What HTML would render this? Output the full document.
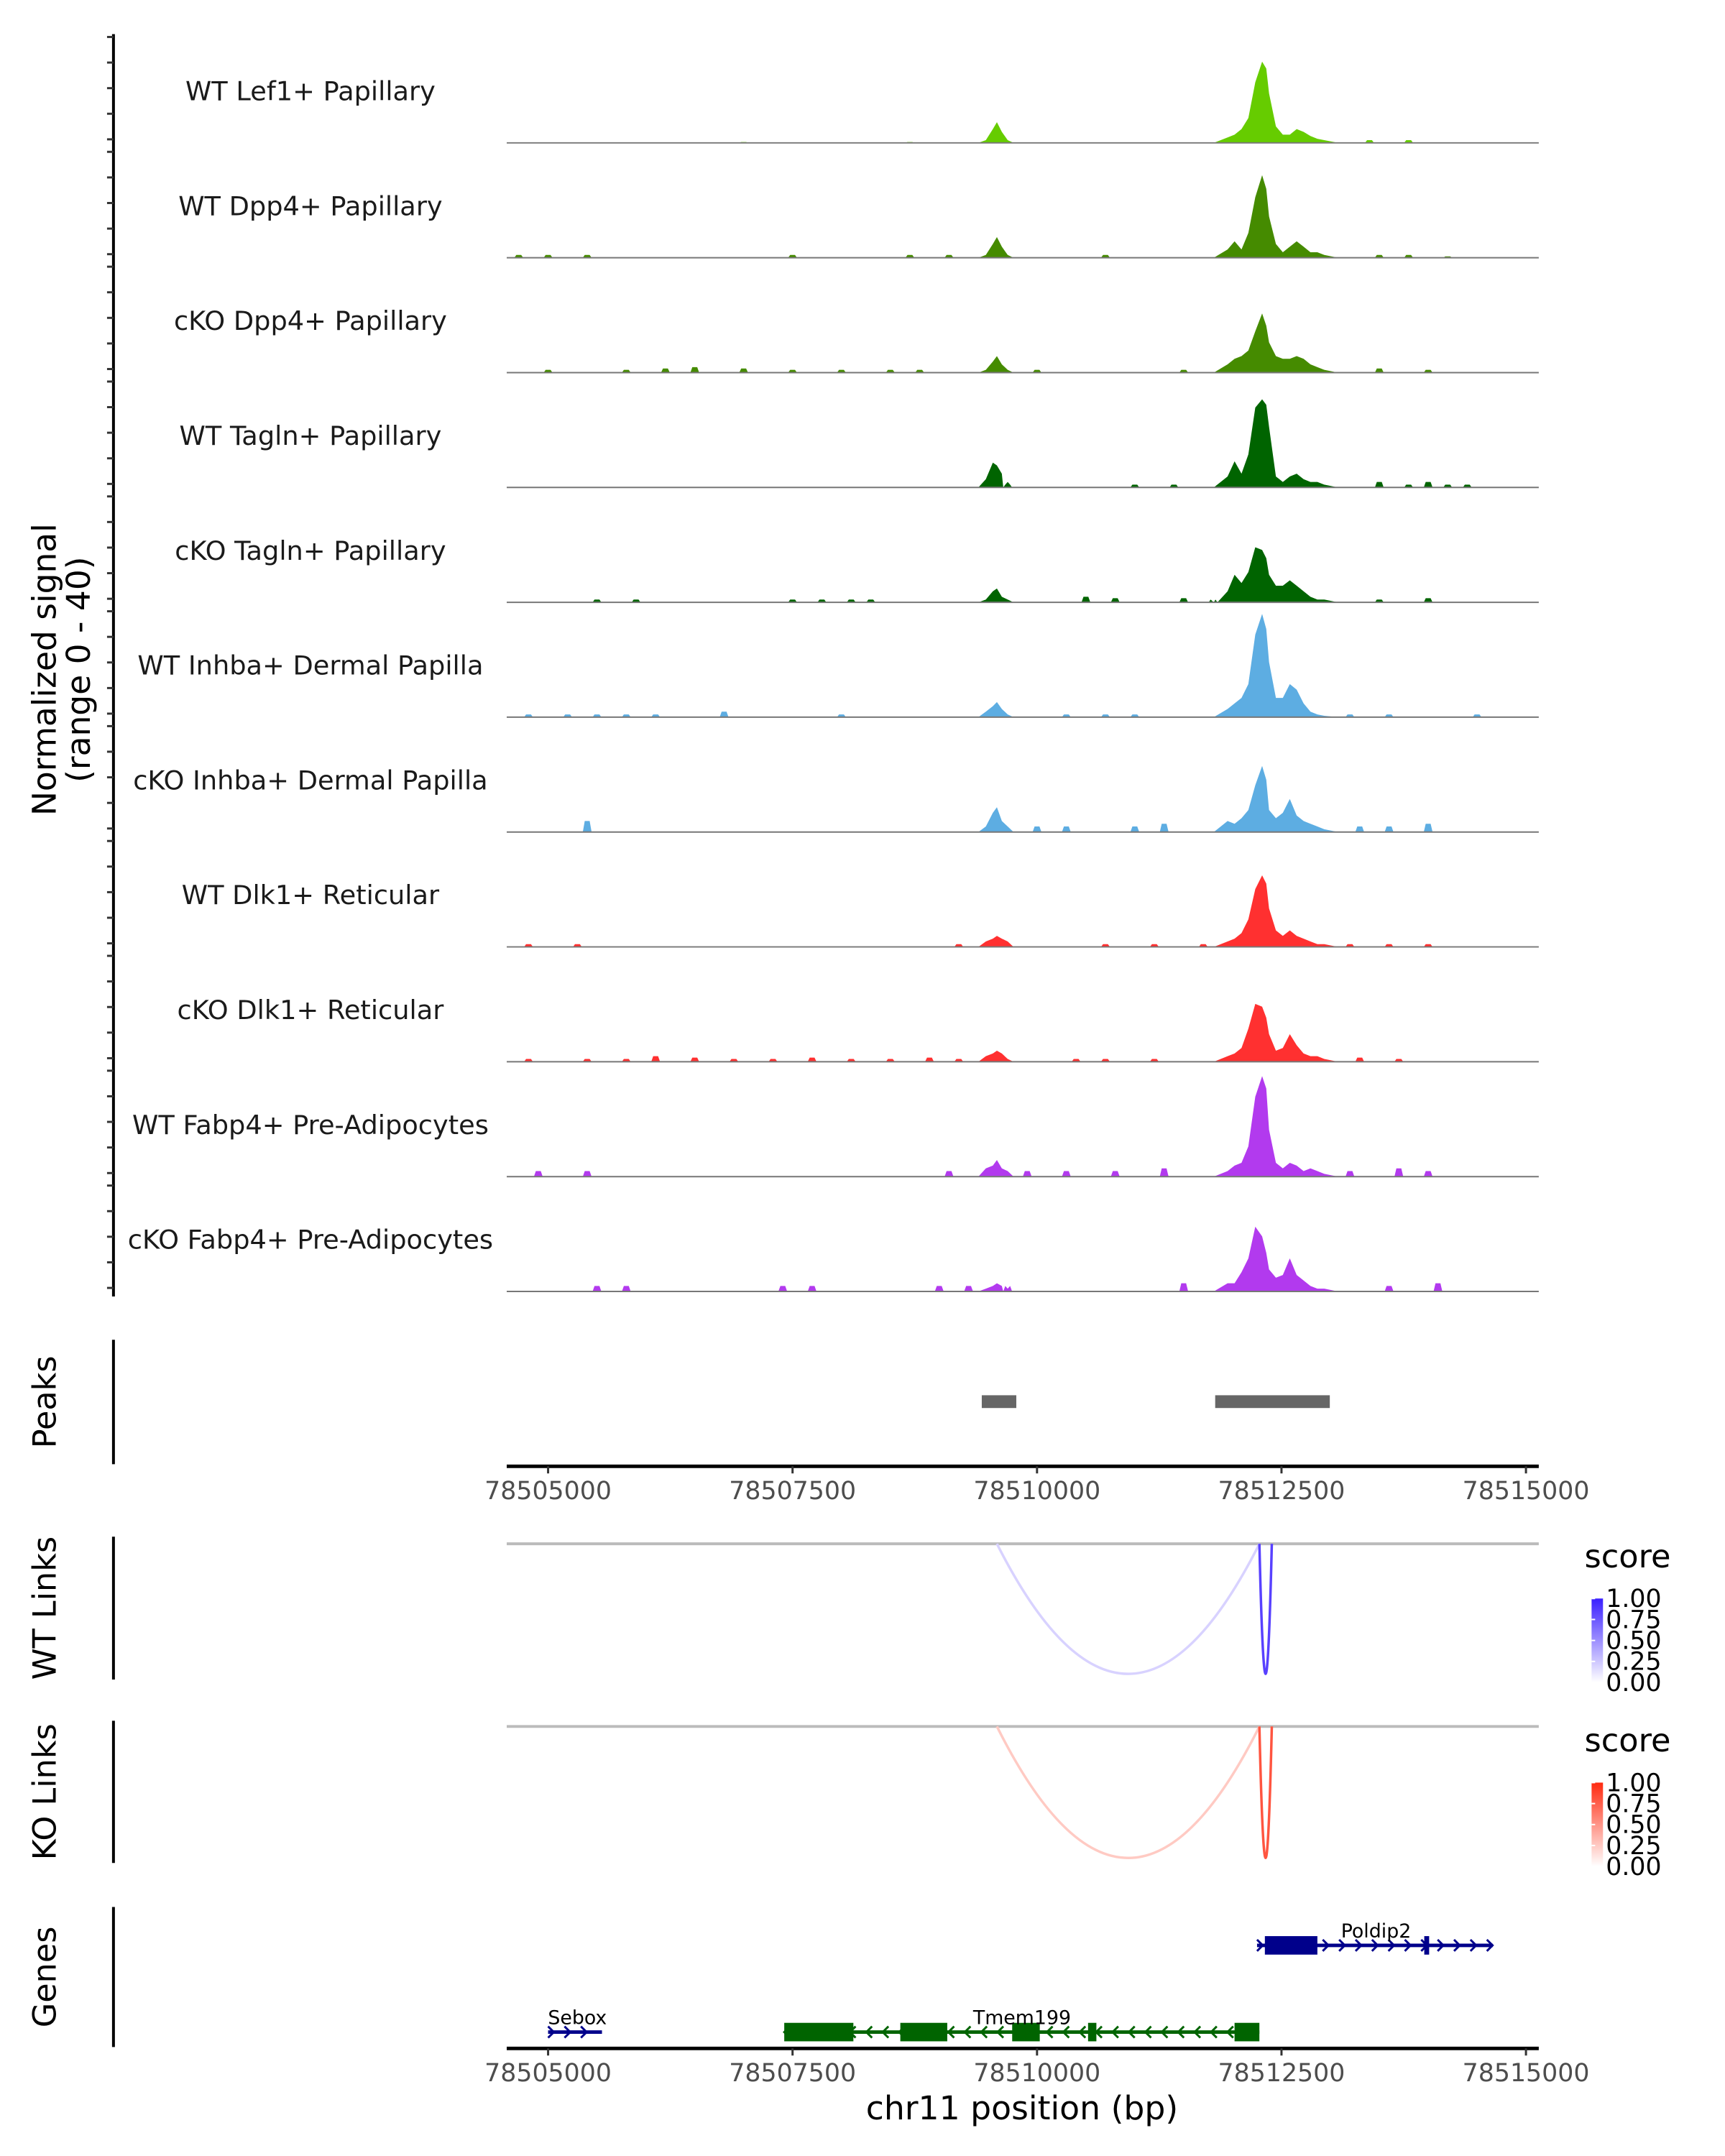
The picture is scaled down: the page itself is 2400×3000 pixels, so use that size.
<!DOCTYPE html>
<html><head><meta charset="utf-8">
<style>
html,body{margin:0;padding:0;background:#fff;}
svg{display:block;font-family:"DejaVu Sans","Liberation Sans",sans-serif;}
</style></head>
<body>
<svg id="chart" width="2400" height="3000" viewBox="0 0 2400 3000" xmlns="http://www.w3.org/2000/svg">
<defs>
<linearGradient id="gradBlue" x1="0" y1="1" x2="0" y2="0"><stop offset="0" stop-color="#ffffff"/><stop offset="1" stop-color="#3a1fff"/></linearGradient>
<linearGradient id="gradRed" x1="0" y1="1" x2="0" y2="0"><stop offset="0" stop-color="#ffffff"/><stop offset="1" stop-color="#ff2a10"/></linearGradient>
</defs>
<g transform="matrix(0.993,0,0,0.989,-2,2)">
<g id="tracks"></g>
<text x="0" y="0" transform="translate(80,940) rotate(-90)" text-anchor="middle" font-size="46" fill="#000">Normalized signal</text>
<text x="0" y="0" transform="translate(128,940) rotate(-90)" text-anchor="middle" font-size="46" fill="#000">(range 0 - 40)</text>
<g id="peaks"></g>
<g id="links"></g>
<g id="genes"></g>
</g>
</svg>
<script>
const SVGNS="http://www.w3.org/2000/svg";
const domainStart=78504577, domainEnd=78515131;
const plotLeft=712, plotRight=2158;
const tickValues=[78505000,78507500,78510000,78512500,78515000];
const trackNames=["WT Lef1+ Papillary","WT Dpp4+ Papillary","cKO Dpp4+ Papillary","WT Tagln+ Papillary","cKO Tagln+ Papillary","WT Inhba+ Dermal Papilla","cKO Inhba+ Dermal Papilla","WT Dlk1+ Reticular","cKO Dlk1+ Reticular","WT Fabp4+ Pre-Adipocytes","cKO Fabp4+ Pre-Adipocytes"];
const trackColors=["#66cc00","#458b00","#458b00","#006400","#006400","#5dade2","#5dade2","#ff3030","#ff3030","#b23aee","#b23aee"];
const mainPos=[78511808,78511949,78512020,78512091,78512161,78512232,78512302,78512344,78512373,78512443,78512514,78512585,78512655,78512726,78512796,78512867,78512938,78513079];
const mainVals=[
[0,2,3,5,9,22,29.5,27,18,6,3,3,5,4,2.5,1.5,1,0],
[0,3,6,3,9,22,30,25,15,5,2,4,6,4,2,2,1,0],
[0,3,5,6,8,15,21.5,17,11,6,5,5,6,5,3,2,1,0],
[0,4,9.5,5,12,29,32,30,22,4,2,4,5,3,2,2,1,0],
[0,4,10,7,11,20,19,16,10,6,6,8,6,4,2,1,1,0],
[0,3,5,7,12,30,37.5,32,20,7,7,12,10,5,2,1,0.5,0],
[0,4,3,5,8,17,24,19,8,5,7,12,6,4,3,2,1,0],
[0,2,3,5,10,21,26,23,14,6,4,6,4,3,2,1,1,0],
[0,2,3,5,12,21,20,16,10,4,5,10,6,3,2,2,1,0],
[0,2,4,5,11,29,36.5,32,17,5,3,5,4,2,3,2,1,0],
[0,3,3,7,12,23.5,20,14,8,5,6,12,6,4,2,1,1,0]];
const smallPos=[78509400,78509477,78509548,78509590,78509640,78509700,78509760];
const smallVals=[
[0,1,5,7.5,4,1,0],[0,1,5,7.5,4,1,0],[0,1,4,6,3,1,0],[0,3,9,8,5,2,0],[0,1,4,5,2,1,0],
[0,2,4,5.5,3,1,0],[0,2,7,9,4,2,0],[0,2,3,4,3,2,0],[0,2,3,4,3,1,0],[0,3,4,6,3,2,0],[0,1,2,3,2,1,0]];
const scatterPos=[
[78507000,78508700,78513400,78513800],
[78504700,78505000,78505400,78507500,78508700,78509100,78510700,78513500,78513800,78514200],
[78505000,78505800,78506200,78506500,78507000,78507500,78508000,78508500,78508800,78510000,78511500,78513500,78514000],
[78509700,78511000,78511400,78513500,78513800,78514000,78514200,78514400],
[78505500,78505900,78507500,78507800,78508100,78508300,78510500,78510800,78511500,78511800,78513500,78514000],
[78504800,78505200,78505500,78505800,78506100,78506800,78508000,78510300,78510700,78511000,78513200,78513600,78514500],
[78505400,78510000,78510300,78511000,78511300,78513300,78513600,78514000],
[78504800,78505300,78509200,78510700,78511200,78511700,78513200,78513600,78514000],
[78504800,78505400,78505800,78506100,78506500,78506900,78507300,78507700,78508100,78508500,78508900,78509200,78510400,78510700,78511200,78513300,78513700],
[78504900,78505400,78509100,78509900,78510300,78510800,78511300,78513200,78513700,78514000],
[78505500,78505800,78507400,78507700,78509000,78509300,78509700,78511500,78513600,78514100]];
const scatterVals=[
[0.3,0.3,1,1],
[1,1,1,1,1,1,1,1,1,0.5],
[1,1,1.5,2,1.5,1,1,1,1,1,1,1.5,1],
[1,1,1,2,1,2,1,1],
[1,1,1,1,1,1,2,1.5,1.5,1,1,1.5],
[1,1,1,1,1,2,1,1,1,1,1,1,1],
[4,2,2,2,3,2,2,3],
[1,1,1,1,1,1,1,1,1],
[1,1,1,2,1.5,1,1,1.5,1,1,1.5,1,1,1,1,1.5,1],
[2,2,2,2,2,2,3,2,3,2],
[2,2,2,2,2,2,2,3,2,3]];
const peakStarts=[78509435,78511822];
const peakEnds=[78509788,78512994];
const linkStarts=[78509590,78512274];
const linkEnds=[78512274,78512401];
const wtScores=[0.2,0.85];
const koScores=[0.25,0.8];
const legendLabels=["1.00","0.75","0.50","0.25","0.00"];

function x(bp){return plotLeft+(bp-domainStart)*(plotRight-plotLeft)/(domainEnd-domainStart);}
const trackTop0=46, trackH=161.6, unitPx=3.875;
function el(tag,attrs,parent){const e=document.createElementNS(SVGNS,tag);for(const k in attrs)e.setAttribute(k,attrs[k]);parent.appendChild(e);return e;}

const tracksG=document.getElementById('tracks');
const ax=el('line',{x1:161,y1:46,x2:161,y2:1822,stroke:'#000','stroke-width':4},tracksG);


for(let i=0;i<11;i++){
  const top=trackTop0+i*trackH;
  for(let k=0;k<5;k++){
    const t=el('line',{x1:152,x2:161,y1:top+4+k*36,y2:top+4+k*36,stroke:'#333','stroke-width':3},tracksG);
    
    
  }
}
for(let i=0;i<11;i++){
  const base=199+i*trackH;
  let pts=[];
  mainPos.forEach((p,j)=>pts.push([p,mainVals[i][j]]));
  smallPos.forEach((p,j)=>pts.push([p,smallVals[i][j]]));
  scatterPos[i].forEach((p,j)=>{const v=scatterVals[i][j];pts.push([p-45,0],[p-25,v],[p+25,v],[p+45,0]);});
  pts.sort((a,b)=>a[0]-b[0]);
  let d='M'+plotLeft+','+base;
  pts.forEach(q=>{d+=' L'+x(q[0]).toFixed(1)+','+(base-q[1]*unitPx).toFixed(1);});
  d+=' L'+plotRight+','+base+' Z';
  const area=el('path',{d:d,fill:trackColors[i],stroke:'none'},tracksG);
  
  
  const bl=el('line',{x1:plotLeft,x2:plotRight,y1:base,y2:base,stroke:'#777','stroke-width':2},tracksG);
  
  
  const lab=el('text',{x:437,y:base-60,'text-anchor':'middle','font-size':37,fill:'#1a1a1a'},tracksG);
  lab.textContent=trackNames[i];
  
  
}

function xAxis(g,y){
  const l=el('line',{x1:plotLeft,x2:plotRight,y1:y,y2:y,stroke:'#000','stroke-width':5},g);
  
  
  tickValues.forEach(v=>{
    const t=el('line',{x1:x(v),x2:x(v),y1:y,y2:y+10,stroke:'#333','stroke-width':3},g);
    
    
    const tl=el('text',{x:x(v),y:y+46,'text-anchor':'middle','font-size':35,fill:'#4d4d4d'},g);
    tl.textContent=v;
    
    
  });
}
function panelAxis(g,y1,y2,label){
  const a=el('line',{x1:161,x2:161,y1:y1,y2:y2,stroke:'#000','stroke-width':4},g);
  
  
  const t=el('text',{x:0,y:0,transform:'translate(80,'+((y1+y2)/2)+') rotate(-90)','text-anchor':'middle','font-size':45,fill:'#000'},g);
  t.textContent=label;
  
  
}
const pg=document.getElementById('peaks');
panelAxis(pg,1883,2058,'Peaks');
peakStarts.forEach((s,i)=>{
  const r=el('rect',{x:x(s),y:1961,width:x(peakEnds[i])-x(s),height:18,fill:'#666'},pg);
  
  
});
xAxis(pg,2061);

const lg=document.getElementById('links');
function linkPanel(y1,y2,lineY,bottom,scores,grad,c1,legendY,label){
  panelAxis(lg,y1,y2,label);
  const gl=el('line',{x1:plotLeft,x2:plotRight,y1:lineY,y2:lineY,stroke:'#bbb','stroke-width':4},lg);
  
  
  linkStarts.forEach((s,i)=>{
    const xa=x(s),xb=x(linkEnds[i]),dep=(bottom-lineY)*2;
    const sc=scores[i];
    const col='rgb('+[0,1,2].map(k=>Math.round(255+(c1[k]-255)*sc)).join(',')+')';
    const p=el('path',{d:'M'+xa+','+lineY+' Q'+((xa+xb)/2)+','+(lineY+dep)+' '+xb+','+lineY,fill:'none',stroke:col,'stroke-width':3.5},lg);
    
    
  });
  const st=el('text',{x:2222,y:legendY,'font-size':45,fill:'#000'},lg);
  st.textContent='score';
  
  
  const barTop=legendY+44, barH=118;
  const r=el('rect',{x:2232,y:barTop,width:16,height:barH,fill:'url(#'+grad+')'},lg);
  
  
  legendLabels.forEach((t,k)=>{
    const yy=barTop+k*barH/4;
    const tk=el('line',{x1:2232,x2:2237,y1:yy,y2:yy,stroke:'#fff','stroke-width':2},lg);
    
    
    const tx=el('text',{x:2252,y:yy+12,'font-size':35,fill:'#000'},lg);
    tx.textContent=t;
    
    
  });
}
linkPanel(2160,2361,2170,2353,wtScores,'gradBlue',[58,31,255],2203,'WT Links');
linkPanel(2419,2619,2427,2612,koScores,'gradRed',[255,42,16],2462,'KO Links');

const gg=document.getElementById('genes');
panelAxis(gg,2681,2878,'Genes');
function gene(name,start,end,exS,exE,y,color,dir,labelX,labelY){
  const g=el('g',{},gg);
  
  
  el('line',{x1:x(start),x2:x(end),y1:y,y2:y,stroke:color,'stroke-width':5},g);
  for(let i=0;i<exS.length;i++){
    el('rect',{x:x(exS[i]),y:y-13,width:Math.max(6,x(exE[i])-x(exS[i])),height:26,fill:color},g);
  }
  const step=23;
  for(let px=x(start)+4;px<x(end)-4;px+=step){
    const a=dir>0?'M'+(px-4)+','+(y-8)+' L'+(px+4)+','+y+' L'+(px-4)+','+(y+8):'M'+(px+4)+','+(y-8)+' L'+(px-4)+','+y+' L'+(px+4)+','+(y+8);
    el('path',{d:a,fill:'none',stroke:color,'stroke-width':3},g);
  }
  const t=el('text',{x:labelX,y:labelY,'text-anchor':'middle','font-size':27,fill:'#000'},g);
  t.textContent=name;
  
  
}
gene('Poldip2',78512250,78514660,[78512330,78513960],[78512867,78514010],2735,'#00008b',1,1930,2724);
gene('Tmem199',78507415,78512274,[78507415,78508602,78509746,78510522,78512020],[78508122,78509082,78510028,78510607,78512274],2857,'#006400',-1,1434,2846);
gene('Sebox',78505000,78505551,[],[],2857,'#00008b',1,811,2846);
xAxis(gg,2880);
const xt=document.createElementNS(SVGNS,'text');
xt.setAttribute('x',1434);xt.setAttribute('y',2980);xt.setAttribute('text-anchor','middle');xt.setAttribute('font-size',46);
xt.textContent='chr11 position (bp)';


gg.appendChild(xt);
</script>
</body></html>
